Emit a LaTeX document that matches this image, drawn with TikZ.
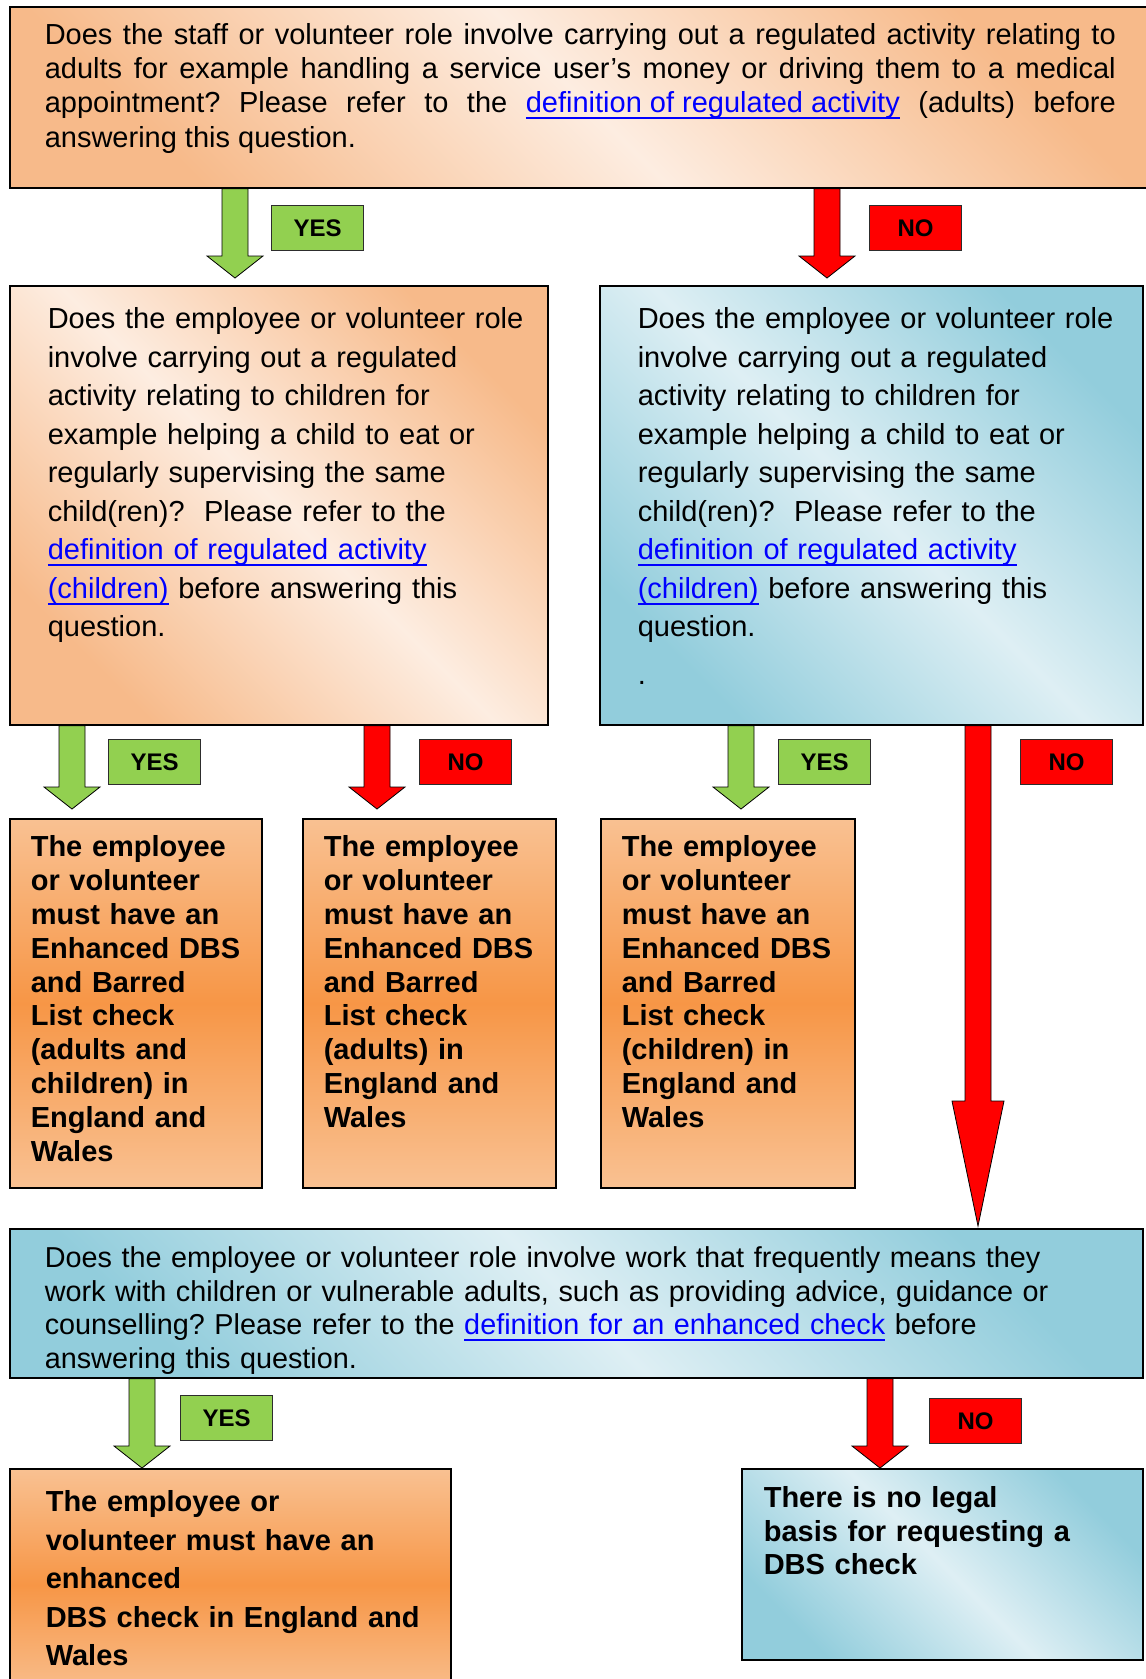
\documentclass[tikz,border=0pt]{standalone}
\usepackage{fontspec}
\setmainfont{Liberation Sans}
\usetikzlibrary{calc,backgrounds}
\frenchspacing
\definecolor{peachdk}{RGB}{247,186,138}
\definecolor{peachlt}{RGB}{253,237,225}
\definecolor{orngtop}{RGB}{249,193,146}
\definecolor{orngmid}{RGB}{247,150,70}
\definecolor{bluedk}{RGB}{146,205,220}
\definecolor{bluelt}{RGB}{222,239,244}
\definecolor{yesgrn}{RGB}{146,208,80}
\definecolor{nored}{RGB}{255,0,0}
\definecolor{linkblu}{RGB}{0,0,255}
\definecolor{tagbdr}{RGB}{45,45,45}
%% blue underlined link text
\newcommand{\weblink}[1]{\textcolor{linkblu}{\setbox0\hbox{#1}%
  \rlap{\rule[-6.5pt]{\wd0}{2pt}}\box0}}
\tikzset{
  %% text boxes: text hangs from the top, size fixed by text height/depth
  qbox/.style={rectangle,draw=black,line width=1.6pt,anchor=north west,
    inner sep=0pt,align=left,text=black,
    font=\fontsize{29}{38.5}\selectfont},
  boxdim/.style n args={3}{text width=#1pt,text height=#2pt,text depth=#3pt},
  txtpad/.style={execute at begin node={\leftskip=#1pt}},
  %% diagonal washes (questions)
  peachwash/.style={top color=peachdk,bottom color=peachdk,
    middle color=peachlt,shading angle=-45},
  bluewash/.style={top color=bluedk,bottom color=bluedk,
    middle color=bluelt,shading angle=-45},
  %% outcome boxes (orange band across the middle)
  rbox/.style={qbox,font=\fontsize{29}{33.8}\selectfont\bfseries,
    top color=orngtop,bottom color=orngtop,middle color=orngmid},
  %% YES / NO tags
  tag/.style={rectangle,draw=tagbdr,line width=1.2pt,anchor=north west,
    minimum width=92pt,minimum height=45pt,inner sep=0pt,
    font=\fontsize{24}{24}\selectfont\bfseries},
  yestag/.style={tag,fill=yesgrn},
  notag/.style={tag,fill=nored},
  %% block arrows
  tip gap/.store in=\tipgap, tip gap=0pt,
  head len/.store in=\headlen, head len=22pt,
  head half/.store in=\headhalf, head half=28pt,
  shaft half/.store in=\shafthalf, shaft half=13pt,
  blockarr/.style={draw=black,line width=0.8pt,fill=#1,
    to path={let \p1=(\tikztostart), \p2=(\tikztotarget) in
      (\x2-\shafthalf,\y1) -- (\x2-\shafthalf,\y2+\tipgap+\headlen)
      -- (\x2-\headhalf,\y2+\tipgap+\headlen) -- (\x2,\y2+\tipgap)
      -- (\x2+\headhalf,\y2+\tipgap+\headlen)
      -- (\x2+\shafthalf,\y2+\tipgap+\headlen)
      -- (\x2+\shafthalf,\y1) -- cycle}},
  yarr/.style={blockarr=yesgrn},
  narr/.style={blockarr=nored},
}
\begin{document}
\begin{tikzpicture}[x=1pt,y=-1pt]
  \useasboundingbox (0,0) rectangle (1146,1679);

  %% first question (adults)
  \node[qbox,peachwash,align=justify,inner xsep=35pt,boxdim={1071}{37.5}{143.5},
    font=\fontsize{29}{34.3}\selectfont] (qadult) at (9,6)
    {Does the staff or volunteer role involve carrying out a regulated activity relating to\linebreak
     adults for example handling a service user’s money or driving them to a medical\linebreak
     appointment? Please refer to the \weblink{definition of regulated activity} (adults) before\linebreak
     answering this question.};

  %% second questions (children)
  \node[qbox,peachwash,txtpad=38,boxdim={538}{43}{396}] (qchildy) at (9,285)
    {Does the employee or volunteer role\\
     involve carrying out a regulated\\
     activity relating to children for\\
     example helping a child to eat or\\
     regularly supervising the same\\
     child(ren)?\ \ Please refer to the\\
     \weblink{definition of regulated activity}\\
     \weblink{(children)} before answering this\\
     question.};
  \node[qbox,bluewash,txtpad=38,boxdim={543}{43}{396}] (qchildn) at (599,285)
    {Does the employee or volunteer role\\
     involve carrying out a regulated\\
     activity relating to children for\\
     example helping a child to eat or\\
     regularly supervising the same\\
     child(ren)?\ \ Please refer to the\\
     \weblink{definition of regulated activity}\\
     \weblink{(children)} before answering this\\
     question.\\[9.5pt]
     .};

  %% barred list outcomes
  \node[rbox,txtpad=21,boxdim={252}{38}{331}] (resboth) at (9,818)
    {The employee\\or volunteer\\must have an\\Enhanced DBS\\and Barred\\
     List check\\(adults and\\children) in\\England and\\Wales};
  \node[rbox,txtpad=21,boxdim={253}{38}{331}] (resadult) at (302,818)
    {The employee\\or volunteer\\must have an\\Enhanced DBS\\and Barred\\
     List check\\(adults) in\\England and\\Wales};
  \node[rbox,txtpad=21,boxdim={254}{38}{331}] (reschild) at (600,818)
    {The employee\\or volunteer\\must have an\\Enhanced DBS\\and Barred\\
     List check\\(children) in\\England and\\Wales};

  %% enhanced check question
  \node[qbox,bluewash,txtpad=35,boxdim={1133}{39}{110},
    font=\fontsize{28.8}{33.5}\selectfont] (qenh) at (9,1228)
    {Does the employee or volunteer role involve work that frequently means they\\
     work with children or vulnerable adults, such as providing advice, guidance or\\
     counselling? Please refer to the \weblink{definition for an enhanced check} before\\
     answering this question.};

  %% final outcomes
  \node[rbox,txtpad=36,boxdim={441}{43}{189},
    font=\fontsize{29}{38.5}\selectfont\bfseries] (resenh) at (9,1468)
    {The employee or\\volunteer must have an\\enhanced\\DBS check in England and\\Wales};
  \node[qbox,bluewash,txtpad=22,boxdim={401}{39}{152},
    font=\fontsize{29}{33.5}\selectfont\bfseries] (resnone) at (741,1468)
    {There is no legal\\basis for requesting a\\DBS check};

  %% tags
  \node[yestag] (yes1) at (271,205)  {YES};
  \node[notag]  (no1)  at (869,205)  {NO};
  \node[yestag] (yes2) at (108,739)  {YES};
  \node[notag]  (no2)  at (419,739)  {NO};
  \node[yestag] (yes3) at (778,739)  {YES};
  \node[notag]  (no3)  at (1020,739) {NO};
  \node[yestag] (yes4) at (180,1395) {YES};
  \node[notag]  (no4)  at (929,1398) {NO};

  %% arrow columns
  \coordinate (c1) at (235,0);
  \coordinate (c2) at (827,0);
  \coordinate (c3) at (72,0);
  \coordinate (c4) at (377,0);
  \coordinate (c5) at (741,0);
  \coordinate (c6) at (978,0);
  \coordinate (c7) at (142,0);
  \coordinate (c8) at (880,0);

  %% ── arrows ──────────────────────────────────────────────
  \begin{scope}[on background layer]
    \draw[yarr,tip gap=7pt] (qadult.south -| c1) to (qchildy.north -| c1);
    \draw[narr,tip gap=7pt] (qadult.south -| c2) to (qchildn.north -| c2);

    \draw[yarr,tip gap=9pt] (qchildy.south -| c3) to (resboth.north -| c3);
    \draw[narr,tip gap=9pt] (qchildy.south -| c4) to (resadult.north -| c4);
    \draw[yarr,tip gap=9pt] (qchildn.south -| c5) to (reschild.north -| c5);

    %% long NO straight down to the enhanced check
    \draw[narr,tip gap=2pt,head len=125pt,head half=26pt]
      (qchildn.south -| c6) to (qenh.north -| c6);

    \draw[yarr] (qenh.south -| c7) to (resenh.north -| c7);
    \draw[narr] (qenh.south -| c8) to (resnone.north -| c8);
  \end{scope}

\end{tikzpicture}
\end{document}
